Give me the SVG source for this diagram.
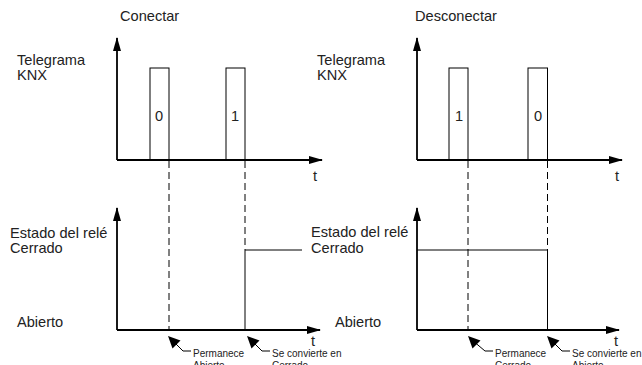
<svg xmlns="http://www.w3.org/2000/svg" xmlns:xlink="http://www.w3.org/1999/xlink" width="642" height="365" viewBox="0 0 642 365">
<style>
text{font-family:"Liberation Sans",Arial,sans-serif;fill:#222;}
.lbl{font-size:14.6px;}
.sm{font-size:10px;}
.axis{stroke:#000;stroke-width:1.8;fill:none;}
.thin{stroke:#000;stroke-width:1;fill:none;}
.dash{stroke:#000;stroke-width:1;fill:none;stroke-dasharray:7 4;}
</style>
<defs>
<marker id="ah" viewBox="0 0 14 8" refX="13" refY="4" markerWidth="14" markerHeight="8" markerUnits="userSpaceOnUse" orient="auto">
<path d="M0,0 L14,4 L0,8 Z" fill="#000"/>
</marker>
<polygon id="sh" points="0,0 12.5,4.5 4.5,12.5" fill="#000"/>
</defs>

<g id="left-panel">
<text class="lbl" x="120" y="21">Conectar</text>
<text class="lbl" x="17" y="65">Telegrama</text>
<text class="lbl" x="17" y="80">KNX</text>
<path class="axis" d="M117,160 V38" marker-end="url(#ah)"/>
<path class="axis" d="M117,160 H322" marker-end="url(#ah)"/>
<rect class="thin" x="150" y="68" width="19" height="92"/>
<rect class="thin" x="226" y="68" width="19" height="92"/>
<text class="lbl" x="155" y="121">0</text>
<text class="lbl" x="231" y="121">1</text>
<text class="lbl" x="313" y="181">t</text>

<text class="lbl" x="10" y="238">Estado del relé</text>
<text class="lbl" x="10" y="253">Cerrado</text>
<text class="lbl" x="17" y="327">Abierto</text>
<path class="axis" d="M117,330 V208" marker-end="url(#ah)"/>
<path class="axis" d="M117,330 H320" marker-end="url(#ah)"/>
<path class="thin" d="M245,330 V250 H302"/>
<text class="lbl" x="311" y="346">t</text>
</g>

<g id="right-panel">
<text class="lbl" x="415" y="21">Desconectar</text>
<text class="lbl" x="317" y="65">Telegrama</text>
<text class="lbl" x="317" y="80">KNX</text>
<path class="axis" d="M417,160 V38" marker-end="url(#ah)"/>
<path class="axis" d="M417,160 H622" marker-end="url(#ah)"/>
<rect class="thin" x="449" y="68" width="19" height="92"/>
<rect class="thin" x="528" y="68" width="19.5" height="92"/>
<text class="lbl" x="455" y="121">1</text>
<text class="lbl" x="534" y="121">0</text>
<text class="lbl" x="615" y="181">t</text>

<text class="lbl" x="311" y="237">Estado del relé</text>
<text class="lbl" x="311" y="253">Cerrado</text>
<text class="lbl" x="335" y="327">Abierto</text>
<path class="axis" d="M417,330 V208" marker-end="url(#ah)"/>
<path class="axis" d="M417,330 H619" marker-end="url(#ah)"/>
<path class="thin" d="M417,250 H547.5 V330"/>
<text class="lbl" x="614" y="346">t</text>
</g>

<g id="connectors">
<path class="dash" d="M169,161 V330"/>
<path class="dash" d="M245,161 V250"/>
<path class="dash" d="M468,161 V330"/>
<path class="dash" d="M547.5,161 V250"/>
<path class="thin" d="M191,351 H183 L172,340"/>
<use xlink:href="#sh" href="#sh" x="168" y="336"/>
<path class="thin" d="M270,351 H262 L251,340"/>
<use xlink:href="#sh" href="#sh" x="247" y="336"/>
<path class="thin" d="M493,351 H485 L472,340"/>
<use xlink:href="#sh" href="#sh" x="468" y="336"/>
<path class="thin" d="M570,351 H562 L551,340"/>
<use xlink:href="#sh" href="#sh" x="547" y="336"/>
</g>

<g id="annotations">
<text class="sm" x="193" y="357">Permanece</text>
<text class="sm" x="193" y="369">Abierto</text>
<text class="sm" x="272" y="357">Se convierte en</text>
<text class="sm" x="272" y="369">Cerrado</text>
<text class="sm" x="495" y="357">Permanece</text>
<text class="sm" x="495" y="369">Cerrado</text>
<text class="sm" x="572" y="357">Se convierte en</text>
<text class="sm" x="572" y="369">Abierto</text>
</g>
</svg>
